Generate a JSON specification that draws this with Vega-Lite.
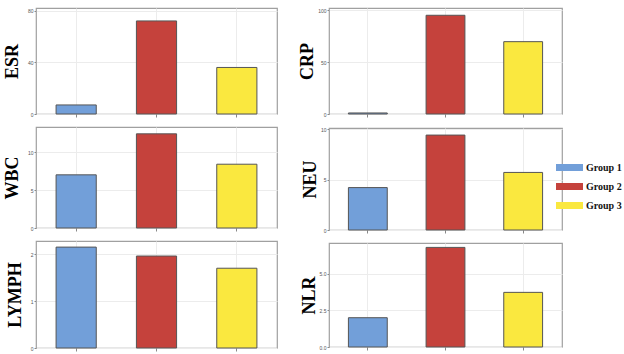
{
  "$schema": "https://vega.github.io/schema/vega-lite/v6.json",
  "padding": {"left": 2, "top": 7, "right": 0, "bottom": 0},
  "background": "white",
  "datasets": {
    "d": [
      {"v": "ESR", "g": "Group 1", "val": 7},
      {"v": "ESR", "g": "Group 2", "val": 72},
      {"v": "ESR", "g": "Group 3", "val": 36},
      {"v": "CRP", "g": "Group 1", "val": 1},
      {"v": "CRP", "g": "Group 2", "val": 95},
      {"v": "CRP", "g": "Group 3", "val": 69.6},
      {"v": "WBC", "g": "Group 1", "val": 7.0},
      {"v": "WBC", "g": "Group 2", "val": 12.4},
      {"v": "WBC", "g": "Group 3", "val": 8.4},
      {"v": "NEU", "g": "Group 1", "val": 4.2},
      {"v": "NEU", "g": "Group 2", "val": 9.4},
      {"v": "NEU", "g": "Group 3", "val": 5.7},
      {"v": "LYMPH", "g": "Group 1", "val": 2.15},
      {"v": "LYMPH", "g": "Group 2", "val": 1.96},
      {"v": "LYMPH", "g": "Group 3", "val": 1.70},
      {"v": "NLR", "g": "Group 1", "val": 2.0},
      {"v": "NLR", "g": "Group 2", "val": 6.8},
      {"v": "NLR", "g": "Group 3", "val": 3.73}
    ]
  },
  "config": {
    "view": {"stroke": "#a0a0a0", "strokeWidth": 1.2},
    "axis": {
      "gridColor": "#ececec",
      "gridWidth": 1,
      "tickColor": "#888",
      "tickSize": 2,
      "labelFontSize": 5,
      "labelColor": "#555",
      "labelPadding": 1,
      "domain": false,
      "titleFont": "Liberation Serif",
      "titleFontWeight": "bold",
      "titleFontSize": 18,
      "titleColor": "#000",
      "titlePadding": 6
    },
    "legend": {
      "orient": "none",
      "legendX": 520,
      "legendY": 146,
      "title": null,
      "labelFont": "Liberation Serif",
      "labelFontWeight": "bold",
      "labelFontSize": 10,
      "labelColor": "#111",
      "symbolType": "M-1,-0.26H1V0.26H-1Z",
      "symbolSize": 729,
      "symbolStrokeWidth": 0,
      "labelOffset": 3,
      "rowPadding": -5,
      "padding": 0
    }
  },
  "spacing": 20,
  "resolve": {"scale": {"x": "independent", "y": "independent", "color": "shared"}},
  "hconcat": [
    {
      "spacing": 7,
      "resolve": {"scale": {"x": "independent", "y": "independent", "color": "shared"}},
      "vconcat": [
        {
          "width": 241, "height": 106,
          "data": {"name": "d"},
          "transform": [{"filter": "datum.v === 'ESR'"}],
          "mark": {"type": "bar", "stroke": "#555", "strokeWidth": 1},
          "encoding": {
            "x": {"field": "g", "type": "nominal", "scale": {"paddingInner": 0.5, "paddingOuter": 0.25}, "axis": {"labels": false, "title": null, "tickSize": 3, "grid": true, "bandPosition": 0.5}},
            "y": {"field": "val", "type": "quantitative", "scale": {"domain": [0, 82], "nice": false}, "axis": {"values": [0, 40, 80], "title": "ESR", "grid": true}},
            "color": {"field": "g", "type": "nominal", "scale": {"domain": ["Group 1", "Group 2", "Group 3"], "range": ["#729fd9", "#c5423c", "#fae83f"]}, "legend": {}}
          }
        },
        {
          "width": 241, "height": 101,
          "data": {"name": "d"},
          "transform": [{"filter": "datum.v === 'WBC'"}],
          "mark": {"type": "bar", "stroke": "#555", "strokeWidth": 1},
          "encoding": {
            "x": {"field": "g", "type": "nominal", "scale": {"paddingInner": 0.5, "paddingOuter": 0.25}, "axis": {"labels": false, "title": null, "tickSize": 3, "grid": true, "bandPosition": 0.5}},
            "y": {"field": "val", "type": "quantitative", "scale": {"domain": [0, 13.3], "nice": false}, "axis": {"values": [0, 5, 10], "title": "WBC", "grid": true}},
            "color": {"field": "g", "type": "nominal", "scale": {"domain": ["Group 1", "Group 2", "Group 3"], "range": ["#729fd9", "#c5423c", "#fae83f"]}, "legend": {}}
          }
        },
        {
          "width": 241, "height": 107,
          "data": {"name": "d"},
          "transform": [{"filter": "datum.v === 'LYMPH'"}],
          "mark": {"type": "bar", "stroke": "#555", "strokeWidth": 1},
          "encoding": {
            "x": {"field": "g", "type": "nominal", "scale": {"paddingInner": 0.5, "paddingOuter": 0.25}, "axis": {"labels": false, "title": null, "tickSize": 3, "grid": true, "bandPosition": 0.5}},
            "y": {"field": "val", "type": "quantitative", "scale": {"domain": [0, 2.28], "nice": false}, "axis": {"values": [0, 1, 2], "title": "LYMPH", "grid": true}},
            "color": {"field": "g", "type": "nominal", "scale": {"domain": ["Group 1", "Group 2", "Group 3"], "range": ["#729fd9", "#c5423c", "#fae83f"]}, "legend": {}}
          }
        }
      ]
    },
    {
      "spacing": 7,
      "resolve": {"scale": {"x": "independent", "y": "independent", "color": "shared"}},
      "vconcat": [
        {
          "width": 233, "height": 106,
          "data": {"name": "d"},
          "transform": [{"filter": "datum.v === 'CRP'"}],
          "mark": {"type": "bar", "stroke": "#555", "strokeWidth": 1},
          "encoding": {
            "x": {"field": "g", "type": "nominal", "scale": {"paddingInner": 0.5, "paddingOuter": 0.25}, "axis": {"labels": false, "title": null, "tickSize": 3, "grid": true, "bandPosition": 0.5}},
            "y": {"field": "val", "type": "quantitative", "scale": {"domain": [0, 102], "nice": false}, "axis": {"values": [0, 50, 100], "title": "CRP", "grid": true, "titlePadding": 1}},
            "color": {"field": "g", "type": "nominal", "scale": {"domain": ["Group 1", "Group 2", "Group 3"], "range": ["#729fd9", "#c5423c", "#fae83f"]}, "legend": {}}
          }
        },
        {
          "width": 233, "height": 102,
          "data": {"name": "d"},
          "transform": [{"filter": "datum.v === 'NEU'"}],
          "mark": {"type": "bar", "stroke": "#555", "strokeWidth": 1},
          "encoding": {
            "x": {"field": "g", "type": "nominal", "scale": {"paddingInner": 0.5, "paddingOuter": 0.25}, "axis": {"labels": false, "title": null, "tickSize": 3, "grid": true, "bandPosition": 0.5}},
            "y": {"field": "val", "type": "quantitative", "scale": {"domain": [0, 10.1], "nice": false}, "axis": {"values": [0, 5, 10], "title": "NEU", "grid": true, "titlePadding": 1}},
            "color": {"field": "g", "type": "nominal", "scale": {"domain": ["Group 1", "Group 2", "Group 3"], "range": ["#729fd9", "#c5423c", "#fae83f"]}, "legend": {}}
          }
        },
        {
          "width": 233, "height": 104,
          "data": {"name": "d"},
          "transform": [{"filter": "datum.v === 'NLR'"}],
          "mark": {"type": "bar", "stroke": "#555", "strokeWidth": 1},
          "encoding": {
            "x": {"field": "g", "type": "nominal", "scale": {"paddingInner": 0.5, "paddingOuter": 0.25}, "axis": {"labels": false, "title": null, "tickSize": 3, "grid": true, "bandPosition": 0.5}},
            "y": {"field": "val", "type": "quantitative", "scale": {"domain": [0, 7.1], "nice": false}, "axis": {"values": [0, 2.5, 5], "format": ".1f", "title": "NLR", "grid": true, "titlePadding": 1}},
            "color": {"field": "g", "type": "nominal", "scale": {"domain": ["Group 1", "Group 2", "Group 3"], "range": ["#729fd9", "#c5423c", "#fae83f"]}, "legend": {}}
          }
        }
      ]
    }
  ]
}
